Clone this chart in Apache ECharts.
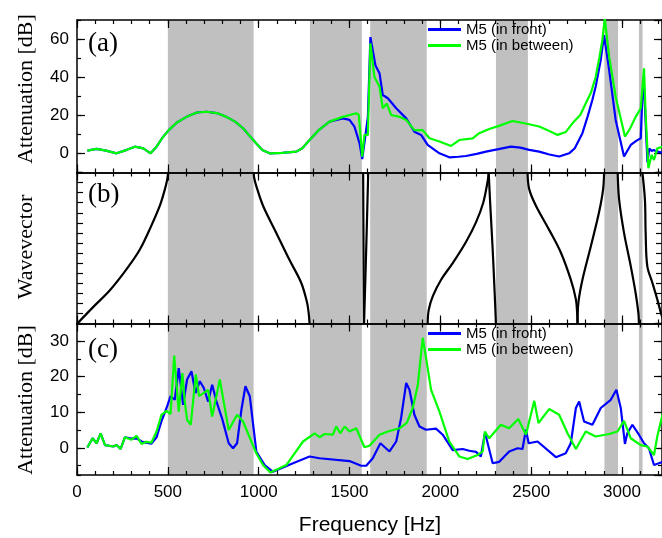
<!DOCTYPE html>
<html><head><meta charset="utf-8">
<script src="https://cdn.jsdelivr.net/npm/echarts@6/dist/echarts.min.js"></script>
<style>html,body{margin:0;padding:0;background:#fff}#c{width:662px;height:538px}</style>
</head><body><div id="c"></div><script>
// ---------- data ----------
const freqBands = [[500,972],[1282,1568],[1614,1925],[2306,2482],[2903,2978],[3093,3113]];
const seriesNames = ['M5 (in front)', 'M5 (in between)'];
const xTickLabels = [0, 500, 1000, 1500, 2000, 2500, 3000];

// panel (a) attenuation [dB] vs frequency [Hz]
const aFront = [[57,1.2],[108,2.1],[160,1.2],[218,-0.2],[270,1.5],[319,3.3],[365,2.4],[405,-0.2],[438,3.3],[470,8],[505,12],[550,16],[603,19],[660,21.3],[712,21.7],[770,21],[822,19],[870,16.5],[914,13],[950,9],[987,5],[1020,1.5],[1060,-0.2],[1130,0],[1207,0.7],[1240,2.5],[1280,6.8],[1330,12],[1390,16.5],[1463,18.2],[1500,17.4],[1527,13.9],[1555,5.2],[1570,-3.2],[1588,9.5],[1601,19],[1615,61],[1643,46],[1665,42],[1683,30.5],[1711,28.8],[1757,23.5],[1812,18.2],[1857,11.2],[1894,9.5],[1930,4.2],[1995,-0.2],[2049,-2.3],[2100,-2],[2141,-1.6],[2200,-0.5],[2251,0.7],[2320,2],[2388,3.3],[2440,2.8],[2489,1.6],[2544,0.7],[2600,-0.8],[2654,-1.9],[2709,-0.2],[2740,2.5],[2782,10.4],[2810,19],[2837,28],[2855,35],[2883,49],[2901,62],[2929,43.7],[2965,17.4],[3011,-1.9],[3048,4.2],[3080,6.5],[3103,7.7],[3112,30],[3121,35],[3140,-5],[3150,2.4],[3163,1],[3175,1.5],[3190,0.8],[3225,0]];
const aBetween = [[57,1.2],[108,2.1],[160,1.2],[218,-0.2],[270,1.5],[319,3.3],[365,2.4],[405,-0.2],[438,3.3],[470,8],[505,12],[550,16],[603,19],[660,21.3],[712,21.7],[770,21],[822,19],[870,16.5],[914,13],[950,9],[987,5],[1020,1.5],[1060,-0.2],[1130,0],[1207,0.7],[1240,2.5],[1280,6.8],[1330,12],[1390,16.5],[1463,19],[1537,20.9],[1551,20],[1570,-1.9],[1582,9.5],[1601,9.5],[1615,57.7],[1637,40],[1665,35],[1683,23.5],[1705,26],[1729,20],[1775,19],[1812,17.4],[1857,12],[1903,12],[1940,7.7],[1995,6],[2059,3.7],[2104,6.8],[2178,7.7],[2214,10.4],[2269,12.6],[2330,14.5],[2397,16.8],[2470,15.5],[2544,13.9],[2600,11.5],[2645,9.5],[2690,11],[2727,15.6],[2770,20],[2800,26],[2830,32],[2855,40],[2875,50],[2892,59.5],[2905,71],[2929,50.7],[2965,29.6],[3016,8.6],[3045,13],[3075,19],[3103,23.5],[3121,44.6],[3130,20],[3145,-8],[3163,-1],[3176,-3.7],[3194,2.4],[3225,3.3]];

// panel (b) wavevector branches [frequency, normalised wavevector]
const wvBranch1 = [[2,0],[90,0.11],[181,0.22],[273,0.36],[346,0.49],[410,0.65],[456,0.78],[484,0.89],[496,0.95],[502,1]];
const wvBranch2 = [[972,1],[976,0.96],[987,0.91],[1024,0.78],[1097,0.6],[1170,0.42],[1234,0.27],[1266,0.14],[1276,0.06],[1280,0]];
const wvBranch3 = [[1575,1],[1577,0.5],[1579,0]];
const wvBranch4 = [[1603,1],[1592,0.5],[1580,0]];
const wvBranch5 = [[1930,0],[1936,0.09],[1958,0.18],[2004,0.29],[2068,0.4],[2141,0.54],[2196,0.67],[2236,0.8],[2260,0.94],[2266,1]];
const wvBranch6 = [[2266,1],[2275,0.78],[2288,0.49],[2299,0.2],[2306,0]];
const wvBranch7 = [[2480,1],[2489,0.89],[2526,0.78],[2599,0.62],[2663,0.47],[2718,0.29],[2746,0.16],[2753,0.07],[2755,0]];
const wvBranch8 = [[2755,0],[2760,0.14],[2782,0.29],[2828,0.51],[2874,0.74],[2896,0.89],[2901,1]];
const wvBranch9 = [[2976,1],[2984,0.82],[3011,0.6],[3048,0.38],[3075,0.2],[3090,0.07],[3093,0]];
const wvBranch10 = [[3112,1],[3126,0.82],[3130,0.6],[3139,0.38],[3167,0.27],[3194,0.16],[3214,0.07],[3225,0.03]];
const wvBranches = [wvBranch1,wvBranch2,wvBranch3,wvBranch4,wvBranch5,wvBranch6,wvBranch7,wvBranch8,wvBranch9,wvBranch10];

// panel (c) attenuation [dB]
const cFront = [[57,0.1],[86,2.7],[108,1.3],[130,4.1],[154,0.8],[200,0.4],[218,0.8],[240,-0.3],[264,3],[300,2.6],[328,2.7],[355,1.8],[380,1.5],[410,1.2],[438,3],[465,7.5],[493,11.2],[515,14.5],[538,13.5],[560,22.4],[584,12.1],[606,19.2],[630,21.5],[652,15.4],[676,18.7],[698,16.8],[722,13],[744,17.7],[768,13],[800,8],[835,1.3],[859,-0.1],[881,1.3],[905,10.7],[927,17.3],[951,14.5],[987,-1],[1033,-4.8],[1079,-6.7],[1189,-4.3],[1280,-2.4],[1335,-2.9],[1500,-3.7],[1564,-5],[1592,-5],[1628,-2.9],[1670,1.3],[1720,-1],[1757,1.8],[1784,8.4],[1812,18.2],[1830,16.3],[1857,9.3],[1885,6],[1921,5.1],[1976,5.4],[2013,3.7],[2068,-0.6],[2123,-0.3],[2159,-0.8],[2196,-1.1],[2223,-2.4],[2245,4.1],[2251,3.2],[2288,-4.3],[2324,-3.9],[2379,-1],[2425,-0.1],[2452,-0.3],[2471,5.1],[2486,1.3],[2535,1.8],[2636,-2.6],[2690,-1.5],[2718,1.3],[2746,11.2],[2764,13],[2791,7.4],[2837,6.5],[2883,11.2],[2938,13.5],[2969,16.3],[2993,11.2],[3016,1.1],[3029,4.1],[3057,6.5],[3093,3.7],[3121,1.3],[3148,-0.1],[3176,-4.8],[3225,-3.9]];
const cBetween = [[57,0.1],[86,2.7],[108,1.3],[130,4.1],[154,0.8],[200,0.4],[218,0.8],[240,-0.3],[264,3],[300,2.3],[328,3.4],[355,1.1],[380,1.7],[410,1.5],[438,4.6],[465,9.3],[493,10.4],[515,9.5],[535,25.9],[560,10.2],[580,21],[593,13],[606,7.9],[626,6.5],[654,20.6],[672,14.5],[722,16.3],[744,8.8],[786,19.2],[835,5],[881,9.3],[914,7.4],[987,-1.5],[1024,-4.8],[1064,-6.9],[1152,-4.8],[1244,1.8],[1308,4.1],[1335,3],[1363,3.9],[1408,3.7],[1427,6],[1449,4.1],[1473,6],[1500,4.6],[1537,5.5],[1582,0.2],[1610,0.6],[1665,3.7],[1711,4.6],[1775,5.5],[1815,7],[1848,11.2],[1876,17.7],[1903,30.9],[1921,25.3],[1949,16.3],[1995,10.2],[2049,1.8],[2104,-2.4],[2150,-3.1],[2205,-2],[2233,-1],[2245,4.6],[2269,2.7],[2333,6.5],[2379,5.5],[2429,8.1],[2471,3.7],[2517,13.2],[2540,7],[2599,10.9],[2654,9.3],[2700,4.1],[2746,-0.3],[2800,4.6],[2855,3.2],[2929,3.9],[2975,4.6],[3011,7.6],[3048,2.7],[3103,0.8],[3139,0.4],[3176,-2],[3194,3.2],[3225,9.8]];

// ---------- layout / style ----------
const X_MAX = 3220;
const SANS = 'Liberation Sans', SERIF = 'Liberation Serif';
const BLUE = '#0000ff', GREEN = '#00ff00', GRAY = '#c0c0c0';
const grids = [
  {left:77, top:20, width:586, height:152.5},
  {left:77, top:172.5, width:586, height:151},
  {left:77, top:323.5, width:586, height:151.5}
];
const yRanges = [[-10.3, 70, 20, 10], [0, 1, 1/15, null], [-7.6, 34.9, 10, 5]];

const xAxis = [], yAxis = [], idx = [];
function mkX(g, pos, interval, len, showLine, showLabel) {
  xAxis.push({type:'value', gridIndex:g, position:pos, min:0, max:X_MAX, interval:interval, z:3,
    axisLine:{show:showLine, onZero:false, lineStyle:{color:'#000', width:1.5}},
    axisTick:{show:true, inside:true, length:len, lineStyle:{color:'#000', width:1.2}},
    axisLabel:{show:showLabel, color:'#000', fontSize:17, fontFamily:SANS, margin:9, showMaxLabel:false,
      formatter: v => xTickLabels.indexOf(v) >= 0 ? String(v) : ''},
    splitLine:{show:false}});
  return xAxis.length - 1;
}
function mkY(g, pos, min, max, step, len, showLine, showLabel) {
  const ax = {type:'value', gridIndex:g, position:pos, min:min, max:max, z:3,
    axisLine:{show:showLine, onZero:false, lineStyle:{color:'#000', width:1.5}},
    axisTick:{show:true, inside:true, length:len, lineStyle:{color:'#000', width:1.2}},
    axisLabel:{show:showLabel, color:'#000', fontSize:17, fontFamily:SANS, margin:8, showMinLabel:false, showMaxLabel:false},
    splitLine:{show:false}};
  if (min === 0) ax.interval = step; else { ax.minInterval = step; ax.maxInterval = step; }
  yAxis.push(ax);
  return yAxis.length - 1;
}
grids.forEach((gr, g) => {
  const r = yRanges[g];
  const xb = mkX(g, 'bottom', 500, 8, true, g === 2);
  mkX(g, 'bottom', 100, 4, false, false);
  mkX(g, 'top', 500, 8, true, false);
  mkX(g, 'top', 100, 4, false, false);
  const yl = mkY(g, 'left', r[0], r[1], r[2], g === 1 ? 6 : 8, true, g !== 1);
  if (r[3]) mkY(g, 'left', r[0], r[1], r[3], 4, false, false);
  mkY(g, 'right', r[0], r[1], r[2], g === 1 ? 6 : 8, true, false);
  if (r[3]) mkY(g, 'right', r[0], r[1], r[3], 4, false, false);
  idx.push({x:xb, y:yl});
});

const series = [];
idx.forEach((ix, g) => {
  series.push({type:'line', name:'bands' + g, xAxisIndex:ix.x, yAxisIndex:ix.y, data:[], z:1, silent:true,
    markArea:{silent:true, itemStyle:{color:GRAY}, data: freqBands.map(b => [{xAxis:b[0]}, {xAxis:b[1]}])}});
});
function line(name, g, data, color, extra) {
  return Object.assign({type:'line', name:name, xAxisIndex:idx[g].x, yAxisIndex:idx[g].y, data:data,
    symbol:'none', showSymbol:false, z:4, clip:true,
    lineStyle:{color:color, width:2.2}, itemStyle:{color:color}}, extra || {});
}
series.push(line(seriesNames[0], 0, aFront, BLUE));
series.push(line(seriesNames[1], 0, aBetween, GREEN));
wvBranches.forEach((b, i) => series.push(line('k' + i, 1, b, '#000', {smooth:0.35})));
series.push(line(seriesNames[0], 2, cFront, BLUE));
series.push(line(seriesNames[1], 2, cBetween, GREEN));

const legendBase = {orient:'vertical', left:428, padding:0, icon:'rect', itemWidth:33, itemHeight:3,
  itemGap:1, selectedMode:false, data:seriesNames,
  textStyle:{color:'#000', fontSize:15, fontFamily:SANS}};

function txt(text, x, y, font, rot, align) {
  return {type:'text', x:x, y:y, rotation:rot || 0, z:10,
    style:{text:text, font:font, fill:'#000', align:align || 'center', verticalAlign:'middle'}};
}

const chart = echarts.init(document.getElementById('c'), null, {renderer:'canvas'});
chart.setOption({
  animation:false,
  backgroundColor:'#fff',
  grid:grids,
  xAxis:xAxis, yAxis:yAxis, series:series,
  legend:[Object.assign({top:22}, legendBase), Object.assign({top:326}, legendBase)],
  graphic:[
    txt('Attenuation [dB]', 26, 89, '22px "Liberation Serif"', Math.PI/2),
    txt('Wavevector', 26, 247, '22px "Liberation Serif"', Math.PI/2),
    txt('Attenuation [dB]', 26, 400, '22px "Liberation Serif"', Math.PI/2),
    txt('(a)', 88, 44, '27px "Liberation Serif"', 0, 'left'),
    txt('(b)', 88, 195, '27px "Liberation Serif"', 0, 'left'),
    txt('(c)', 88, 350, '27px "Liberation Serif"', 0, 'left'),
    txt('Frequency [Hz]', 370, 525, '21px "Liberation Sans"', 0)
  ]
});
</script></body></html>
